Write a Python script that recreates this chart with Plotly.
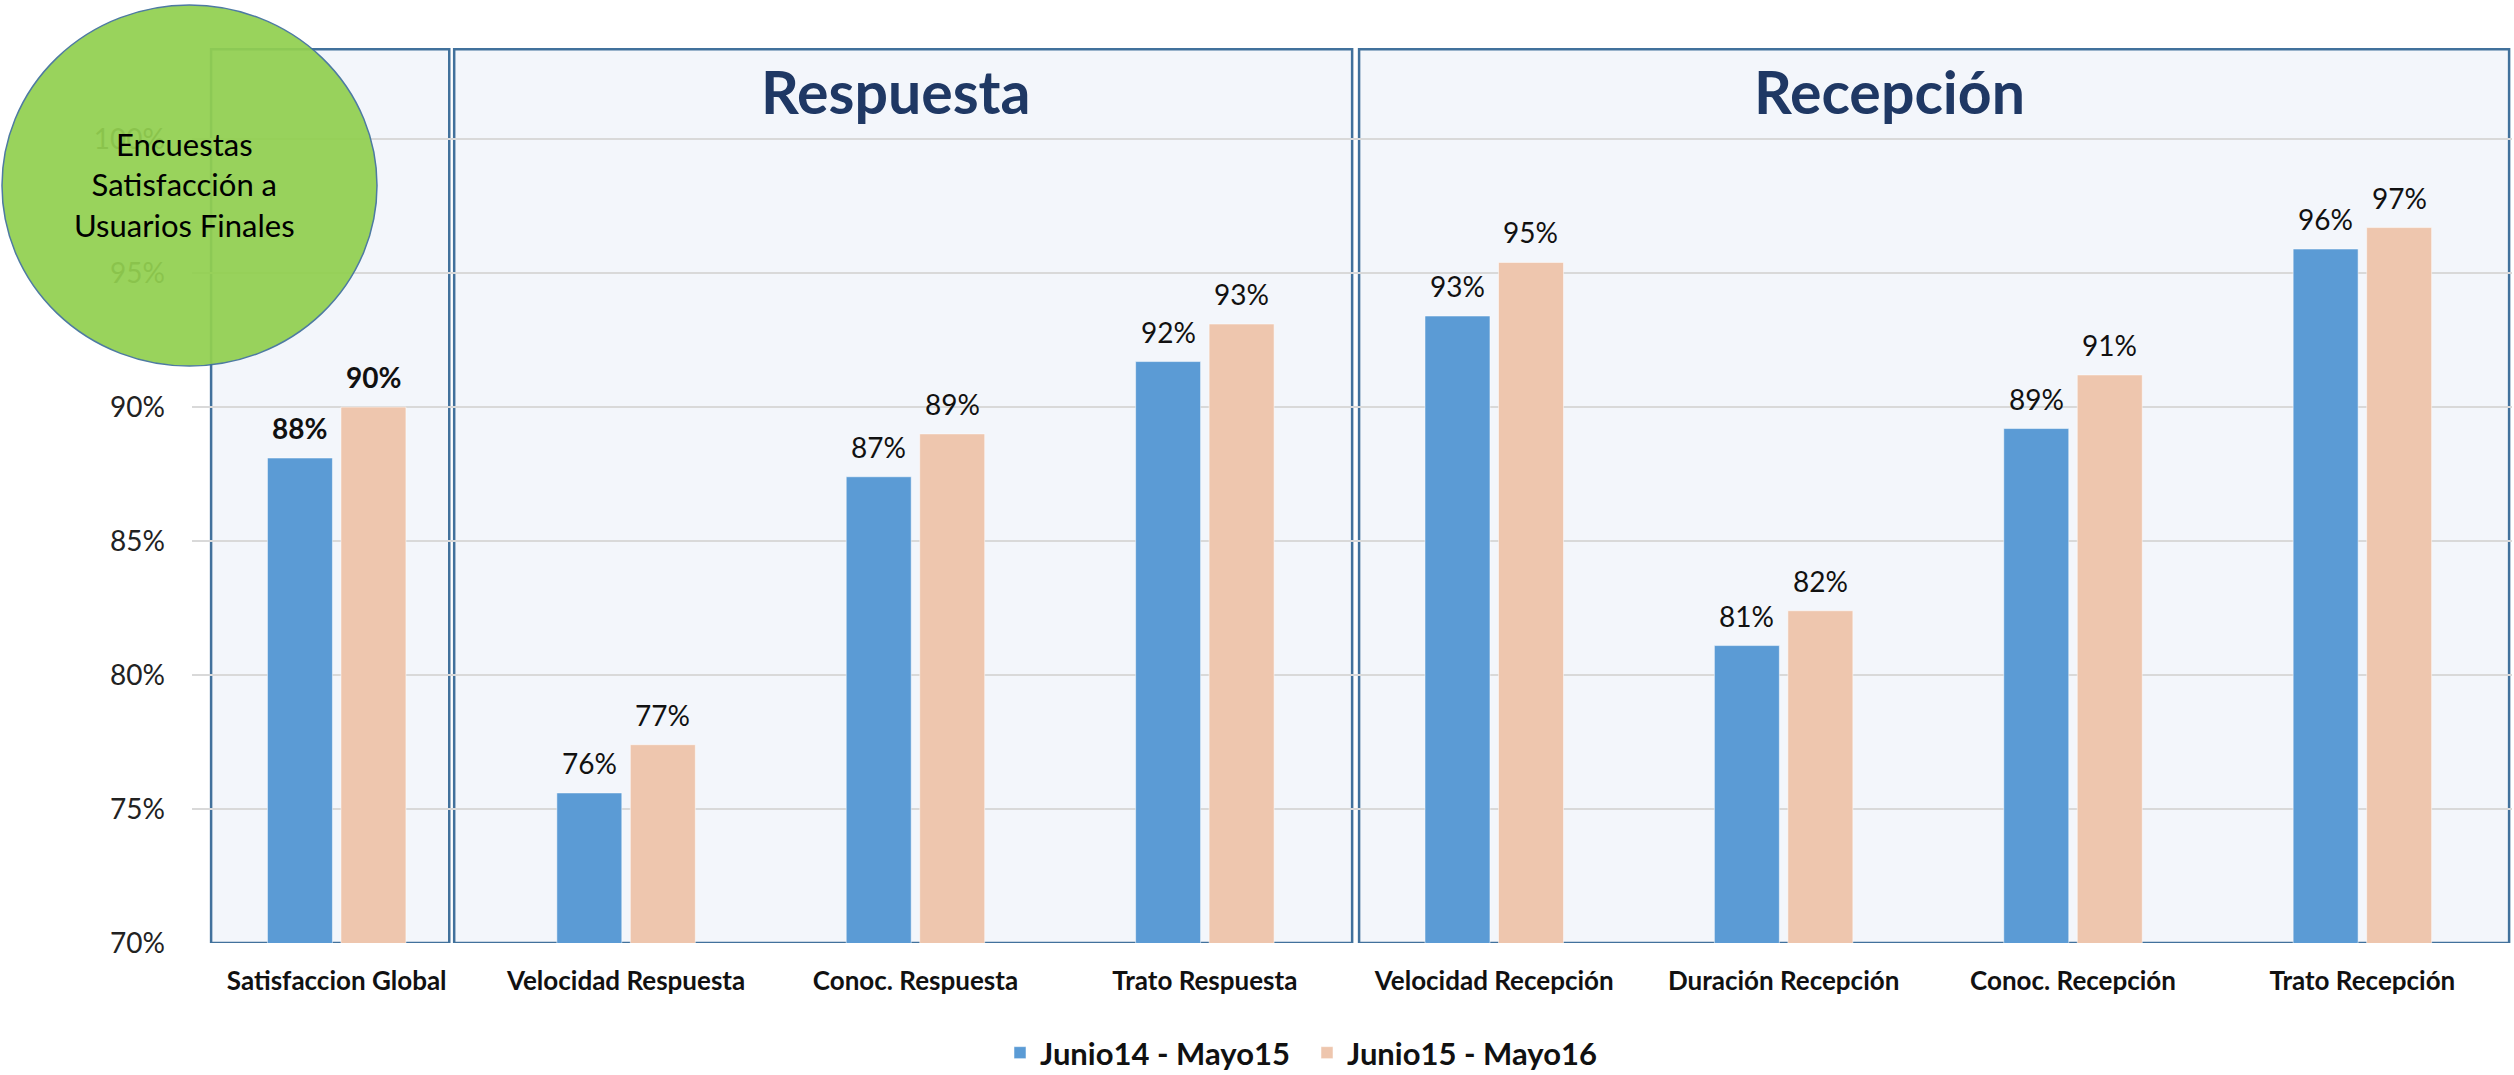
import plotly.graph_objects as go

# ---------------- data ----------------
categories = ["Satisfaccion Global", "Velocidad Respuesta", "Conoc. Respuesta", "Trato Respuesta",
              "Velocidad Recepción", "Duración Recepción", "Conoc. Recepción", "Trato Recepción"]
series_names = ["Junio14 - Mayo15", "Junio15 - Mayo16"]
values_1415 = [0.881, 0.756, 0.874, 0.917, 0.934, 0.811, 0.892, 0.959]
values_1516 = [0.900, 0.774, 0.890, 0.931, 0.954, 0.824, 0.912, 0.967]
y_ticks = [0.70, 0.75, 0.80, 0.85, 0.90, 0.95, 1.00]
group_titles = ["Respuesta", "Recepción"]
circle_text = "Encuestas<br>Satisfacción a<br>Usuarios Finales"

# ---------------- layout constants ----------------
W, H = 2514, 1075
PX_L, PX_W, PX_T, PX_H = 192, 2320, 32, 911
BARGAP, BARGROUPGAP = 0.492, 0.116
OFF = (1 - BARGAP) / 4
COL_BLUE, COL_PEACH = "#5B9BD5", "#EEC6AE"
BOX_FILL, BOX_LINE = "#F3F6FB", "#41719C"
FONT = "Lato"


def px_x(px):
    return (px - PX_L) / PX_W


def px_y(py):
    return (PX_T + PX_H - py) / PX_H


fig = go.Figure()
for name, vals, col in [(series_names[0], values_1415, COL_BLUE), (series_names[1], values_1516, COL_PEACH)]:
    fig.add_trace(go.Bar(
        name=name, x=categories, y=vals,
        marker=dict(color=col, line=dict(color="rgba(255,255,255,0.5)", width=1)),
        hoverinfo="x+y",
    ))

# group boxes (in category-index units)
boxes = [(-0.434, 0.389), (0.406, 3.509), (3.533, 7.507)]
for x0, x1 in boxes:
    fig.add_shape(type="rect", xref="x", yref="y", x0=x0, x1=x1, y0=0.70, y1=1.0336,
                  fillcolor=BOX_FILL, line=dict(color=BOX_LINE, width=2.5), layer="below")

# data labels
annotations = []
for vals, sign in [(values_1415, -1), (values_1516, 1)]:
    for i, v in enumerate(vals):
        txt = f"{round(v * 100):.0f}%"
        if i == 0:
            txt = f"<b>{txt}</b>"
        annotations.append(dict(x=i + sign * OFF, y=v, xref="x", yref="y", text=txt, showarrow=False,
                                yanchor="bottom", xanchor="center", yshift=11,
                                font=dict(family=FONT, size=28, color="#111111")))

# group titles
for t, xp in zip(group_titles, [896, 1889]):
    annotations.append(dict(x=px_x(xp), y=px_y(92), xref="paper", yref="paper", text=f"<b>{t}</b>",
                            showarrow=False, xanchor="center", yanchor="middle",
                            font=dict(family=FONT, size=59, color="#1F3864")))

# green circle
fig.add_shape(type="circle", xref="paper", yref="paper",
              x0=px_x(2), x1=px_x(377), y0=px_y(366), y1=px_y(5),
              fillcolor="#92D050", opacity=0.93, line=dict(color="#41719C", width=1.5), layer="above")
annotations.append(dict(x=px_x(184), y=px_y(185), xref="paper", yref="paper", text=circle_text,
                        showarrow=False, xanchor="center", yanchor="middle", align="center",
                        font=dict(family=FONT, size=31, color="#000000")))

fig.update_layout(
    width=W, height=H,
    margin=dict(l=PX_L, r=W - PX_L - PX_W, t=PX_T, b=H - PX_T - PX_H, autoexpand=False),
    paper_bgcolor="white", plot_bgcolor="white",
    barmode="group", bargap=BARGAP, bargroupgap=BARGROUPGAP,
    showlegend=True,
    legend=dict(orientation="h", x=px_x(1000), xanchor="left", y=px_y(1053), yanchor="middle",
                font=dict(family=FONT, size=31, color="#111111", weight="bold"),
                entrywidth=262, entrywidthmode="pixels",
                bgcolor="rgba(0,0,0,0)", itemclick=False),
    annotations=annotations,
    font=dict(family=FONT),
)
fig.update_xaxes(range=[-0.5, 7.517], showgrid=False, showline=False, zeroline=False, ticks="",
                 tickfont=dict(family=FONT, size=26, color="#111111", weight="bold"),
                 ticklabelstandoff=20, automargin=False)
fig.update_yaxes(range=[0.70, 1.04], tickvals=y_ticks, tickformat=".0%", showgrid=True,
                 gridcolor="#D9D9D9", gridwidth=1.5, zeroline=False, showline=False, ticks="",
                 tickfont=dict(family=FONT, size=28, color="#222222"),
                 ticklabelstandoff=26, automargin=False)

fig.write_html("out.html", config={"displayModeBar": False},
               post_script="document.body.style.margin='0px';document.body.style.overflow='hidden';")
